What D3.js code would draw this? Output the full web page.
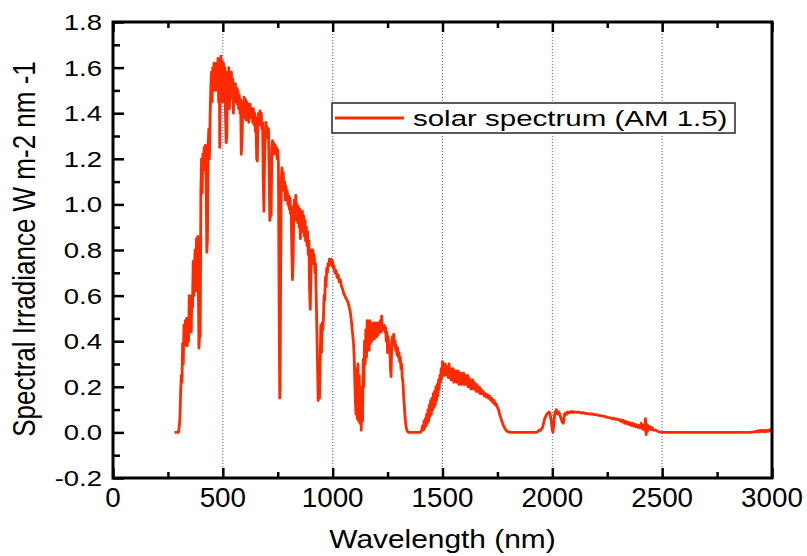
<!DOCTYPE html>
<html>
<head>
<meta charset="utf-8">
<script src="https://cdn.jsdelivr.net/npm/d3@7"></script>
<style>
  html, body { margin: 0; padding: 0; background: #fff; }
  svg { display: block; }
  text { font-family: "Liberation Sans", Arial, sans-serif; fill: #000; }
</style>
</head>
<body>
<svg id="chart" width="807" height="556"></svg>
<script>
// ---- data ----
const wavelength = [
280,290,298,302,305,308,311,314,317,320,323,326,329,332,335,338,341,344,347,350,353,356,359,362,365,368,371,374,377,380,383,386,389,391,393,395,397,400,403,406,409,412,415,418,421,424,427,430,433,436,439,442,445,448,451,454,457,460,463,466,469,472,475,478,481,484,486,488,491,494,497,500,503,506,509,512,515,518,521,524,527,530,533,536,539,542,545,548,551,554,557,560,563,566,569,572,575,578,581,584,588,591,594,597,600,603,606,609,612,615,618,621,624,627,630,633,636,639,642,645,648,651,654,657,660,663,666,669,672,675,678,681,684,687,690,693,696,699,702,705,708,711,714,717,720,723,726,729,732,735,738,741,744,747,750,753,756,759,761,763,766,769,772,775,778,781,784,787,790,793,796,799,802,805,808,811,814,817,820,823,826,829,832,835,838,841,844,847,850,853,856,859,862,865,868,871,874,877,880,883,886,889,892,895,898,901,904,907,910,913,916,919,922,925,928,931,934,937,940,943,946,949,952,955,958,961,964,967,970,973,976,979,982,985,988,991,994,997,1000,1003,1006,1010,1015,1020,1025,1030,1035,1040,1045,1050,1055,1060,1065,1070,1075,1080,1085,1090,1095,1098,1100,1103,1106,1109,1112,1115,1118,1121,1124,1127,1130,1133,1136,1139,1142,1145,1148,1151,1154,1157,1160,1163,1166,1169,1172,1175,1178,1181,1184,1187,1190,1193,1196,1199,1202,1205,1208,1211,1214,1217,1220,1223,1226,1229,1232,1235,1238,1241,1244,1247,1250,1253,1256,1260,1263,1266,1269,1272,1275,1278,1281,1284,1287,1290,1293,1296,1299,1302,1305,1308,1311,1314,1317,1320,1323,1326,1330,1335,1340,1345,1400,1405,1410,1413,1416,1419,1422,1425,1428,1431,1434,1437,1440,1443,1446,1449,1452,1455,1458,1461,1464,1467,1470,1473,1476,1479,1482,1485,1488,1491,1494,1497,1500,1503,1506,1509,1512,1515,1518,1521,1524,1527,1530,1533,1536,1539,1542,1545,1548,1551,1554,1557,1560,1563,1566,1569,1572,1575,1578,1581,1584,1587,1590,1593,1596,1599,1602,1605,1608,1611,1614,1617,1620,1623,1626,1629,1632,1635,1638,1641,1644,1647,1650,1653,1656,1659,1662,1665,1668,1671,1675,1680,1685,1690,1695,1700,1705,1710,1715,1720,1725,1730,1735,1740,1745,1750,1755,1760,1765,1770,1775,1780,1785,1790,1800,1810,1930,1935,1940,1945,1950,1955,1960,1965,1970,1975,1980,1985,1990,1995,2000,2003,2006,2009,2012,2015,2018,2021,2024,2027,2030,2035,2040,2045,2050,2053,2056,2060,2065,2070,2075,2080,2085,2090,2095,2100,2110,2120,2130,2140,2150,2160,2170,2180,2190,2200,2210,2220,2230,2240,2250,2260,2270,2280,2290,2300,2310,2315,2320,2325,2330,2335,2340,2345,2350,2355,2360,2365,2370,2375,2380,2385,2390,2395,2400,2405,2410,2415,2420,2424,2427,2430,2433,2436,2440,2445,2450,2455,2460,2470,2480,2490,2500,2900,2920,2930,2935,2940,2945,2950,2955,2960,2965,2970,2975,2980,2985,2990,2995,3000
];
const irradiance = [
0,0,0,0.03,0.07,0.18,0.25,0.22,0.39,0.30,0.47,0.38,0.49,0.40,0.50,0.38,0.47,0.40,0.60,0.45,0.58,0.44,0.60,0.55,0.75,0.60,0.74,0.80,0.62,0.85,0.70,0.86,0.60,0.37,0.40,0.80,0.42,1.05,1.20,1.05,1.22,1.15,1.25,1.20,1.26,1.10,0.79,0.85,1.25,1.33,1.20,1.38,1.50,1.58,1.45,1.60,1.55,1.62,1.50,1.60,1.58,1.62,1.50,1.64,1.45,1.60,1.25,1.50,1.65,1.55,1.63,1.45,1.62,1.52,1.60,1.40,1.27,1.30,1.58,1.45,1.60,1.42,1.55,1.50,1.58,1.47,1.55,1.40,1.52,1.48,1.53,1.45,1.51,1.44,1.50,1.42,1.48,1.40,1.46,1.22,1.30,1.45,1.38,1.47,1.40,1.46,1.37,1.45,1.39,1.44,1.36,1.42,1.44,1.38,1.40,1.42,1.36,1.42,1.35,1.40,1.32,1.38,1.20,1.19,1.37,1.40,1.35,1.41,1.38,1.40,1.33,1.36,1.10,0.97,1.20,1.30,1.36,1.30,1.34,1.29,1.33,1.10,0.93,1.00,0.95,1.25,1.28,1.22,1.27,1.24,1.26,1.22,1.25,1.20,1.24,1.18,0.60,0.15,0.20,0.70,1.10,1.16,1.08,1.14,1.06,1.10,1.02,1.08,1.04,1.06,1.00,1.04,0.98,1.03,0.96,0.99,0.80,0.67,0.75,0.98,1.02,0.93,1.04,0.95,1.00,0.92,0.99,0.90,0.98,0.85,0.96,0.88,0.97,0.90,0.95,0.86,0.93,0.84,0.90,0.82,0.88,0.78,0.84,0.62,0.54,0.70,0.80,0.78,0.80,0.74,0.78,0.70,0.74,0.60,0.45,0.30,0.14,0.25,0.15,0.30,0.47,0.35,0.48,0.45,0.50,0.60,0.58,0.68,0.64,0.72,0.70,0.74,0.73,0.76,0.74,0.75,0.76,0.73,0.75,0.72,0.73,0.70,0.71,0.68,0.69,0.66,0.67,0.64,0.63,0.61,0.60,0.59,0.58,0.57,0.55,0.53,0.49,0.44,0.39,0.33,0.25,0.15,0.08,0.28,0.06,0.30,0.05,0.25,0.04,0.20,0.01,0.18,0.05,0.32,0.20,0.40,0.30,0.45,0.33,0.49,0.38,0.47,0.36,0.49,0.39,0.47,0.40,0.48,0.42,0.47,0.41,0.48,0.43,0.47,0.42,0.48,0.43,0.47,0.44,0.49,0.44,0.51,0.45,0.47,0.46,0.47,0.44,0.46,0.40,0.44,0.35,0.42,0.36,0.38,0.28,0.245,0.40,0.42,0.39,0.43,0.38,0.40,0.36,0.38,0.34,0.37,0.33,0.35,0.31,0.33,0.28,0.30,0.24,0.22,0.16,0.12,0.06,0.02,0.005,0,0,0.01,0.03,0.01,0.05,0.02,0.06,0.03,0.08,0.04,0.10,0.05,0.12,0.07,0.14,0.08,0.15,0.10,0.17,0.11,0.18,0.12,0.20,0.14,0.21,0.16,0.23,0.19,0.25,0.22,0.28,0.24,0.31,0.26,0.29,0.25,0.30,0.26,0.29,0.25,0.28,0.24,0.30,0.25,0.28,0.23,0.27,0.24,0.28,0.22,0.27,0.23,0.27,0.22,0.26,0.23,0.27,0.21,0.26,0.23,0.26,0.21,0.25,0.22,0.26,0.21,0.25,0.22,0.24,0.21,0.25,0.20,0.24,0.21,0.23,0.19,0.23,0.20,0.23,0.19,0.22,0.19,0.21,0.18,0.21,0.18,0.20,0.18,0.20,0.17,0.19,0.17,0.18,0.16,0.17,0.155,0.165,0.15,0.16,0.14,0.15,0.13,0.14,0.12,0.125,0.11,0.10,0.08,0.065,0.05,0.035,0.025,0.015,0.008,0.002,0,0,0.005,0.01,0.008,0.015,0.02,0.04,0.06,0.07,0.08,0.085,0.09,0.08,0.05,0.01,0.0,0.03,0.06,0.09,0.08,0.10,0.085,0.09,0.08,0.09,0.075,0.06,0.045,0.04,0.06,0.08,0.085,0.08,0.09,0.085,0.09,0.088,0.092,0.087,0.09,0.088,0.089,0.085,0.087,0.083,0.082,0.08,0.081,0.078,0.078,0.075,0.074,0.071,0.07,0.066,0.065,0.061,0.062,0.057,0.058,0.05,0.055,0.045,0.052,0.04,0.048,0.038,0.045,0.035,0.042,0.03,0.04,0.028,0.036,0.025,0.033,0.022,0.03,0.02,0.04,0.015,0.03,0.01,0.06,-0.01,0.035,0.005,0.03,0.015,0.025,0.012,0.02,0.01,0.01,0.005,0.001,0,0,0.002,0.006,0.002,0.008,0.003,0.009,0.004,0.008,0.003,0.009,0.004,0.01,0.005,0.012,0.006,0.01
];
const xTickValues = [0, 500, 1000, 1500, 2000, 2500, 3000];
const xTickLabels = ["0", "500", "1000", "1500", "2000", "2500", "3000"];
const yTickValues = [-0.2, 0, 0.2, 0.4, 0.6, 0.8, 1.0, 1.2, 1.4, 1.6, 1.8];
const yTickLabels = ["-0.2", "0.0", "0.2", "0.4", "0.6", "0.8", "1.0", "1.2", "1.4", "1.6", "1.8"];
const gridValues = [500, 1000, 1500, 2000, 2500];
const seriesName = "solar spectrum (AM 1.5)";
const xTitle = "Wavelength (nm)";
const yTitle = "Spectral Irradiance W m-2 nm -1";

// ---- layout ----
const L = 113, R = 772, T = 22, B = 478;
const red = "#ff2a00";
const svg = d3.select("#chart");

const x = d3.scaleLinear().domain([0, 3000]).range([L, R]);
const y = d3.scaleLinear().domain([-0.2, 1.8]).range([B, T]);

// grid (vertical dotted blue)
svg.append("g").selectAll("line").data(gridValues).join("line")
  .attr("x1", d => x(d)).attr("x2", d => x(d))
  .attr("y1", T).attr("y2", B)
  .attr("stroke", "#3a5cff").attr("stroke-width", 1)
  .attr("stroke-dasharray", "1,2");

// spectrum line
const pts = wavelength.map((w, i) => [w, irradiance[i]]);
svg.append("path")
  .datum(pts)
  .attr("fill", "none")
  .attr("stroke", red)
  .attr("stroke-width", 2.8)
  .attr("stroke-linejoin", "round")
  .attr("d", d3.line().x(d => x(d[0])).y(d => y(d[1])));

// axes ticks (inside)
const xMinor = d3.range(250, 3000, 500);
const yMinor = d3.range(-0.1, 1.8, 0.2);
function styleAxis(g) {
  g.select(".domain").remove();
  g.selectAll("line").attr("stroke", "#000").attr("stroke-width", 2.5);
  g.selectAll("text").remove();
}
svg.append("g").attr("transform", `translate(0,${B})`)
  .call(d3.axisBottom(x).tickValues(xTickValues).tickSize(-10).tickFormat("")).call(styleAxis);
svg.append("g").attr("transform", `translate(0,${B})`)
  .call(d3.axisBottom(x).tickValues(xMinor).tickSize(-6).tickFormat("")).call(styleAxis);
svg.append("g").attr("transform", `translate(0,${T})`)
  .call(d3.axisTop(x).tickValues(xTickValues).tickSize(-10).tickFormat("")).call(styleAxis);
svg.append("g").attr("transform", `translate(0,${T})`)
  .call(d3.axisTop(x).tickValues(xMinor).tickSize(-6).tickFormat("")).call(styleAxis);
svg.append("g").attr("transform", `translate(${L},0)`)
  .call(d3.axisLeft(y).tickValues(yTickValues).tickSize(-11).tickFormat("")).call(styleAxis);
svg.append("g").attr("transform", `translate(${L},0)`)
  .call(d3.axisLeft(y).tickValues(yMinor).tickSize(-7).tickFormat("")).call(styleAxis);

// frame
svg.append("rect").attr("x", L).attr("y", T).attr("width", R - L).attr("height", B - T)
  .attr("fill", "none").attr("stroke", "#000").attr("stroke-width", 3);

// tick labels
svg.append("g").selectAll("text").data(xTickValues).join("text")
  .attr("transform", d => `translate(${x(d)},507) scale(1.03,1)`)
  .attr("text-anchor", "middle").attr("font-size", 27)
  .text((d, i) => xTickLabels[i]);
svg.append("g").selectAll("text").data(yTickValues).join("text")
  .attr("transform", d => `translate(102,${y(d) + 8}) scale(1.25,1)`)
  .attr("text-anchor", "end").attr("font-size", 22)
  .text((d, i) => yTickLabels[i]);

// axis titles
svg.append("text")
  .attr("transform", `translate(${(L + R) / 2 - 0},548) scale(1.15,1)`)
  .attr("text-anchor", "middle").attr("font-size", 26)
  .text(xTitle);
svg.append("text")
  .attr("transform", `translate(35,249) rotate(-90) scale(1,1.2)`)
  .attr("text-anchor", "middle").attr("font-size", 26)
  .text(yTitle);

// legend
const lg = svg.append("g");
lg.append("rect").attr("x", 332).attr("y", 103).attr("width", 403).attr("height", 30)
  .attr("fill", "#fff").attr("stroke", "#333").attr("stroke-width", 1.6);
lg.append("line").attr("x1", 335).attr("x2", 404).attr("y1", 118).attr("y2", 118)
  .attr("stroke", red).attr("stroke-width", 2.8);
lg.append("text").attr("transform", "translate(413,126) scale(1.34,1)")
  .attr("font-size", 22).text(seriesName);
</script>
</body>
</html>
